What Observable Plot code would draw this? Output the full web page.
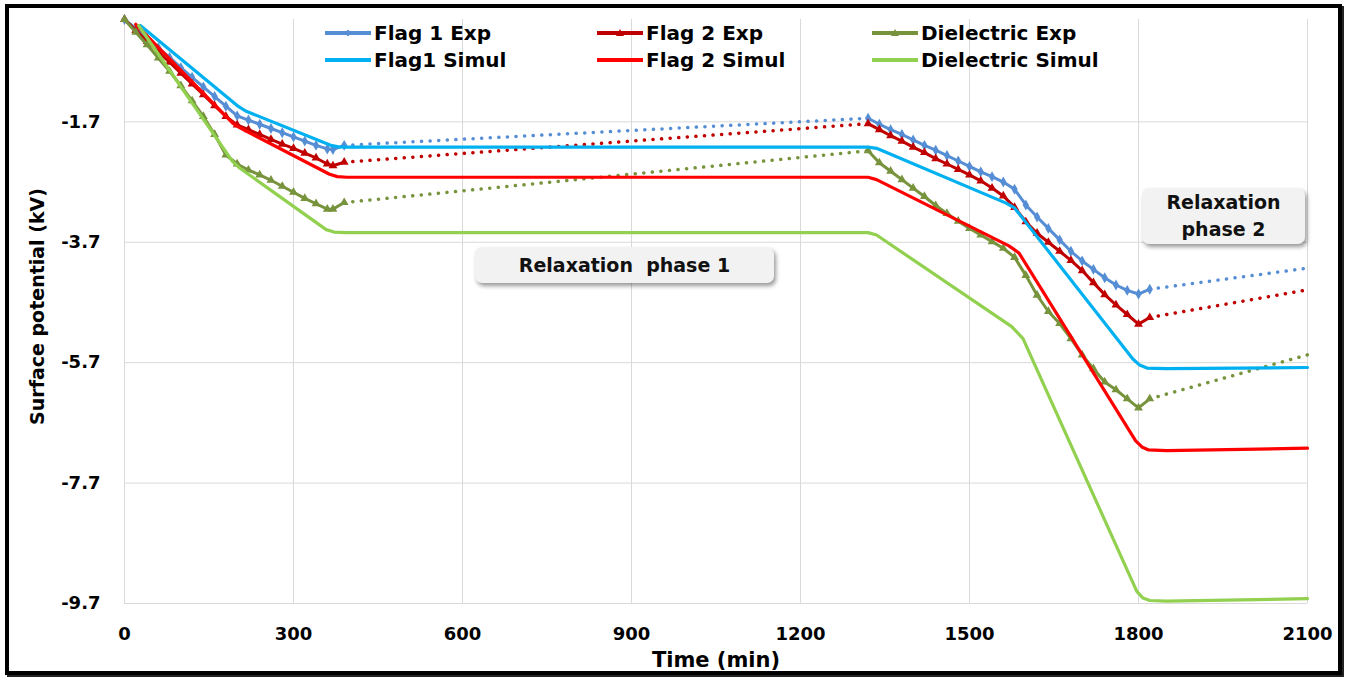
<!DOCTYPE html>
<html><head><meta charset="utf-8">
<script src="https://cdn.jsdelivr.net/npm/d3@7"></script>
<script src="https://cdn.jsdelivr.net/npm/@observablehq/plot@0.6"></script>
<style>
body{margin:0;background:#fff;font-family:"DejaVu Sans",sans-serif;}
#wrap{position:relative;width:1346px;height:677px;overflow:hidden;background:#fff;}
#chart{position:absolute;left:0;top:0;}
.frame{position:absolute;left:5px;top:4px;width:1337px;height:671px;border:4px solid #000;box-sizing:border-box;box-shadow:2px 2px 0 #222;pointer-events:none;}
.legend{position:absolute;font-weight:bold;font-size:20px;color:#000;display:flex;align-items:center;white-space:nowrap;height:24px;}
.legend svg{margin-right:2px;}
.note{position:absolute;background:#F2F2F2;border-radius:7px;box-shadow:2px 3px 4px rgba(0,0,0,.4);font-weight:bold;font-size:19px;color:#111;display:flex;align-items:center;justify-content:center;text-align:center;white-space:pre;line-height:27px;}
</style></head>
<body>
<div id="wrap"><div id="chart"></div></div>
<script>
// ---------- data (time in min, surface potential in kV) ----------
const xTicks = [0, 300, 600, 900, 1200, 1500, 1800, 2100];
const yTicks = [-9.7, -7.7, -5.7, -3.7, -1.7];

const charge1Time = [0,20,40,60,80,100,120,140,160,180,200,220,240,260,280,300,320,340,360,370,390];
const charge2Time = [1320,1340,1360,1380,1400,1420,1440,1460,1480,1500,1520,1540,1560,1580,1600,1620,1640,1660,1680,1700,1720,1740,1760,1780,1800,1820];
const relax1Time = [390, 1320];
const relax2Time = [1820, 2100];

const flag1ExpCharge1 = [0,-0.15,-0.31,-0.47,-0.63,-0.80,-0.96,-1.12,-1.28,-1.44,-1.60,-1.67,-1.74,-1.81,-1.88,-1.95,-2.02,-2.09,-2.15,-2.16,-2.09];
const flag2ExpCharge1 = [0,-0.18,-0.36,-0.54,-0.71,-0.89,-1.07,-1.25,-1.43,-1.61,-1.75,-1.83,-1.91,-1.99,-2.07,-2.14,-2.22,-2.30,-2.40,-2.43,-2.37];
const dielExpCharge1  = [0,-0.21,-0.42,-0.64,-0.86,-1.10,-1.35,-1.61,-1.91,-2.25,-2.40,-2.50,-2.58,-2.67,-2.77,-2.87,-2.97,-3.06,-3.15,-3.15,-3.04];

const flag1ExpRelax1 = [-2.09, -1.64];
const flag2ExpRelax1 = [-2.37, -1.73];
const dielExpRelax1  = [-3.04, -2.18];

const flag1ExpCharge2 = [-1.64,-1.74,-1.83,-1.91,-2.00,-2.09,-2.17,-2.26,-2.35,-2.44,-2.53,-2.61,-2.70,-2.82,-3.08,-3.28,-3.47,-3.66,-3.85,-4.01,-4.15,-4.29,-4.41,-4.50,-4.56,-4.48];
const flag2ExpCharge2 = [-1.73,-1.83,-1.93,-2.02,-2.12,-2.21,-2.31,-2.40,-2.49,-2.58,-2.68,-2.80,-2.93,-3.12,-3.36,-3.55,-3.70,-3.85,-4.00,-4.17,-4.37,-4.57,-4.74,-4.90,-5.06,-4.95];
const dielExpCharge2  = [-2.18,-2.38,-2.52,-2.66,-2.80,-2.94,-3.09,-3.22,-3.35,-3.47,-3.58,-3.69,-3.80,-3.95,-4.25,-4.58,-4.85,-5.05,-5.30,-5.57,-5.80,-6.02,-6.15,-6.30,-6.45,-6.30];

const flag1ExpRelax2 = [-4.48, -4.13];
const flag2ExpRelax2 = [-4.95, -4.49];
const dielExpRelax2  = [-6.30, -5.57];

const flag1SimTime  = [28, 200, 215, 366, 380, 395, 1320, 1335, 1565, 1580, 1790, 1802, 1815, 1850, 2100];
const flag1SimValue = [-0.10, -1.43, -1.52, -2.09, -2.115, -2.12, -2.12, -2.14, -3.05, -3.13, -5.64, -5.74, -5.79, -5.80, -5.78];
const flag2SimTime  = [20, 192, 205, 364, 378, 395, 1320, 1335, 1570, 1588, 1795, 1806, 1818, 1850, 2100];
const flag2SimValue = [-0.08, -1.72, -1.80, -2.57, -2.61, -2.62, -2.62, -2.66, -3.76, -3.88, -7.00, -7.10, -7.15, -7.16, -7.12];
const dielSimTime   = [25, 192, 205, 358, 372, 392, 1320, 1335, 1575, 1595, 1797, 1808, 1820, 1850, 2100];
const dielSimValue  = [-0.10, -2.36, -2.47, -3.49, -3.53, -3.54, -3.54, -3.58, -5.10, -5.30, -9.50, -9.61, -9.65, -9.66, -9.62];

const seriesNames = ["Flag 1 Exp", "Flag 2 Exp", "Dielectric Exp", "Flag1 Simul", "Flag 2 Simul", "Dielectric Simul"];
const seriesColors = ["#558ED5", "#C00000", "#77933C", "#00B0F0", "#FF0000", "#92D050"];
const expSymbols = ["diamond", "triangle", "triangle"];

// ---------- build tables ----------
const rows = (ts, vs) => ts.map((t, i) => ({t, v: vs[i]}));
const exps = [
  {c1: flag1ExpCharge1, r1: flag1ExpRelax1, c2: flag1ExpCharge2, r2: flag1ExpRelax2},
  {c1: flag2ExpCharge1, r1: flag2ExpRelax1, c2: flag2ExpCharge2, r2: flag2ExpRelax2},
  {c1: dielExpCharge1,  r1: dielExpRelax1,  c2: dielExpCharge2,  r2: dielExpRelax2}
];
const sims = [
  rows(flag1SimTime, flag1SimValue),
  rows(flag2SimTime, flag2SimValue),
  rows(dielSimTime, dielSimValue)
];

const marks = [
  Plot.ruleX(xTicks, {stroke: "#D9D9D9", strokeWidth: 1}),
  Plot.ruleY(yTicks, {stroke: "#D9D9D9", strokeWidth: 1}),
  Plot.axisX({ticks: xTicks, tickSize: 0, tickPadding: 24, tickFormat: d => String(d), label: null}),
  Plot.axisY({ticks: yTicks, tickSize: 0, tickPadding: 24, tickFormat: d => d.toFixed(1), label: null}),
  Plot.text(["Time (min)"], {text: d => d, frameAnchor: "bottom", dy: 57, textAnchor: "middle", lineAnchor: "middle", fontSize: 21, fontWeight: "bold"}),
  Plot.text(["Surface potential (kV)"], {text: d => d, frameAnchor: "left", dx: -87, dy: -5, rotate: -90, textAnchor: "middle", lineAnchor: "middle", fontSize: 19, fontWeight: "bold"})
];
exps.forEach((e, k) => {
  const col = seriesColors[k];
  for (const [ts, vs] of [[relax1Time, e.r1], [relax2Time, e.r2]]) {
    marks.push(Plot.line(rows(ts, vs), {x: "t", y: "v", stroke: col, strokeWidth: 3.5, strokeDasharray: "0.1,8.5", strokeLinecap: "round"}));
  }
  for (const [ts, vs] of [[charge1Time, e.c1], [charge2Time, e.c2]]) {
    const d = rows(ts, vs);
    marks.push(Plot.line(d, {x: "t", y: "v", stroke: col, strokeWidth: 3}));
    marks.push(Plot.dot(d, {x: "t", y: "v", symbol: expSymbols[k], r: 3.3, fill: col, stroke: "none"}));
  }
});
sims.forEach((d, k) => {
  marks.push(Plot.line(d, {x: "t", y: "v", stroke: seriesColors[k + 3], strokeWidth: 3.2, strokeLinejoin: "round"}));
});

const chart = Plot.plot({
  width: 1346, height: 677,
  marginLeft: 124, marginRight: 39, marginTop: 19, marginBottom: 74,
  style: {fontFamily: "DejaVu Sans", fontSize: "18px", fontWeight: "bold", color: "#000", background: "transparent", overflow: "visible"},
  x: {domain: [0, 2100]},
  y: {domain: [-9.7, 0]},
  marks
});
document.getElementById("chart").appendChild(chart);

// ---------- legend & annotations (HTML overlay) ----------
const wrap = document.getElementById("wrap");
const legendCols = [324, 596, 871];
const legendRows = [33, 60];
seriesNames.forEach((name, i) => {
  const col = i % 3, row = Math.floor(i / 3);
  const color = seriesColors[i];
  const div = document.createElement("div");
  div.className = "legend";
  div.style.left = legendCols[col] + "px";
  div.style.top = (legendRows[row] - 12) + "px";
  let marker = "";
  if (row === 0) {
    marker = expSymbols[col] === "diamond"
      ? `<path d="M24,8.5 L27.5,12 L24,15.5 L20.5,12Z" fill="${color}"/>`
      : `<path d="M24,8 L28,15 L20,15Z" fill="${color}"/>`;
  }
  div.innerHTML = `<svg width="48" height="24"><line x1="1" y1="12" x2="47" y2="12" stroke="${color}" stroke-width="4"/>${marker}</svg><span>${name}</span>`;
  wrap.appendChild(div);
});

const notes = [
  {text: "Relaxation  phase 1", left: 475, top: 247, width: 299, height: 36},
  {text: "Relaxation\nphase 2", left: 1142, top: 188, width: 163, height: 56}
];
notes.forEach(n => {
  const div = document.createElement("div");
  div.className = "note";
  Object.assign(div.style, {left: n.left + "px", top: n.top + "px", width: n.width + "px", height: n.height + "px"});
  div.textContent = n.text;
  wrap.appendChild(div);
});
const frame = document.createElement("div");
frame.className = "frame";
wrap.appendChild(frame);
</script>
</body></html>
